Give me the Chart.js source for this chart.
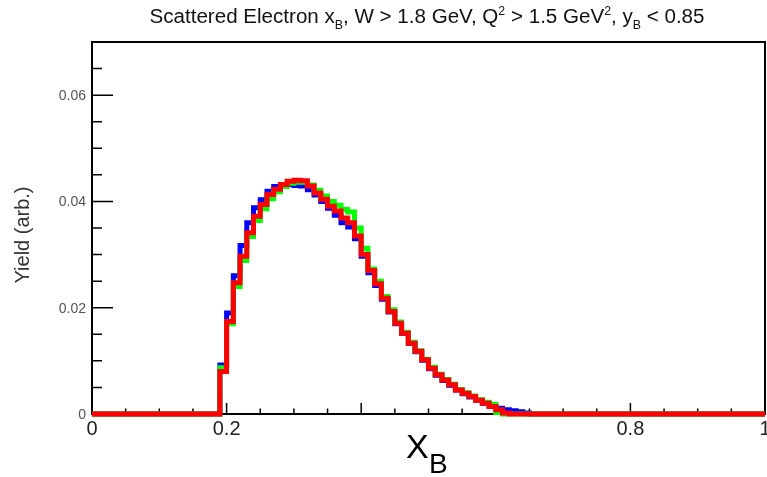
<!DOCTYPE html>
<html>
<head>
<meta charset="utf-8">
<script src="https://cdn.jsdelivr.net/npm/chart.js@4.4.1/dist/chart.umd.min.js"></script>
<style>
html, body { margin: 0; padding: 0; background: #fff; }
#wrap { width: 767px; height: 477px; }
</style>
</head>
<body>
<div id="wrap"><canvas id="chart" width="767" height="477"></canvas></div>
<script>
// histogram: 100 bins of width 0.01 on x_B, values read from bins 0.19 .. 0.64
var binWidth = 0.01;
var nBins = 100;
var firstBin = 19;

var blueYield = [0.0092, 0.0190, 0.0260, 0.0317, 0.0360, 0.0388, 0.0403, 0.0419, 0.0428, 0.0432,
                 0.0432, 0.0430, 0.0429, 0.0422, 0.0412, 0.0400, 0.0387, 0.0374, 0.0360, 0.0352,
                 0.0330, 0.0297, 0.0266, 0.0242, 0.0216, 0.0192, 0.0170, 0.0152, 0.0133, 0.0117,
                 0.0101, 0.0085, 0.0073, 0.0063, 0.0054, 0.0045, 0.0038, 0.0032, 0.0026, 0.0020,
                 0.0015, 0.0011, 0.0008, 0.0006, 0.0004, 0.0002];
var greenYield = [0.0087, 0.0170, 0.0240, 0.0289, 0.0334, 0.0364, 0.0386, 0.0405, 0.0418, 0.0428,
                  0.0434, 0.0436, 0.0436, 0.0431, 0.0421, 0.0410, 0.0400, 0.0393, 0.0385, 0.0380,
                  0.0350, 0.0312, 0.0273, 0.0250, 0.0221, 0.0196, 0.0173, 0.0154, 0.0135, 0.0119,
                  0.0103, 0.0088, 0.0075, 0.0065, 0.0056, 0.0046, 0.0040, 0.0034, 0.0027, 0.0022,
                  0.0018, 0.0003, 0, 0, 0, 0];
var redYield = [0.0080, 0.0174, 0.0247, 0.0297, 0.0341, 0.0372, 0.0394, 0.0413, 0.0423, 0.0432,
                0.0438, 0.0440, 0.0439, 0.0429, 0.0416, 0.0404, 0.0391, 0.0382, 0.0369, 0.0360,
                0.0335, 0.0300, 0.0270, 0.0245, 0.0218, 0.0193, 0.0171, 0.0152, 0.0133, 0.0118,
                0.0102, 0.0086, 0.0074, 0.0064, 0.0055, 0.0045, 0.0039, 0.0033, 0.0026, 0.0020,
                0.0014, 0.0008, 0.0002, 0, 0, 0];

var xTickValues = [0, 0.2, 0.8, 1];
var xTickLabels = ['0', '0.2', '0.8', '1'];
var yTickValues = [0, 0.02, 0.04, 0.06];
var yTickLabels = ['0', '0.02', '0.04', '0.06'];

var titleParts = [
    {t: 'Scattered Electron x'}, {t: 'B', sub: true},
    {t: ', W > 1.8 GeV, Q'}, {t: '2', sup: true},
    {t: ' > 1.5 GeV'}, {t: '2', sup: true},
    {t: ', y'}, {t: 'B', sub: true}, {t: ' < 0.85'}
];

// bin lower edges as points, plus closing point at x = 1 (stepped 'before')
function histPoints(values) {
    var pts = [];
    for (var i = 0; i < nBins; i++) {
        var j = i - firstBin;
        var v = (j >= 0 && j < values.length) ? values[j] : 0;
        pts.push({x: i * binWidth, y: v});
    }
    pts.push({x: nBins * binWidth, y: pts[nBins - 1].y});
    return pts;
}

function histSet(values, color) {
    return {
        data: histPoints(values),
        borderColor: color,
        borderWidth: 5,
        stepped: 'before',
        pointRadius: 0,
        fill: false,
        clip: 6,
        borderJoinStyle: 'miter',
        borderCapStyle: 'butt'
    };
}

var font = '"Liberation Sans", Arial, sans-serif';
var narrowFont = '"Liberation Sans Narrow", "Liberation Sans", Arial, sans-serif';

function drawRich(ctx, parts, x, y, size, width) {
    var small = Math.round(size * 0.6);
    var total = 0;
    parts.forEach(function(p) {
        ctx.font = (p.sub || p.sup ? small : size) + 'px ' + narrowFont;
        p.w = ctx.measureText(p.t).width;
        total += p.w;
    });
    var sx = width ? width / total : 1;
    ctx.save();
    ctx.translate(x - total * sx / 2, y);
    ctx.scale(sx, 1);
    var cx = 0;
    parts.forEach(function(p) {
        ctx.font = (p.sub || p.sup ? small : size) + 'px ' + narrowFont;
        var dy = p.sub ? size * 0.3 : (p.sup ? -size * 0.42 : 0);
        ctx.fillText(p.t, cx, dy);
        cx += p.w;
    });
    ctx.restore();
}

var rootFrame = {
    id: 'rootFrame',
    beforeDatasetsDraw: function(chart) {
        var ctx = chart.ctx, a = chart.chartArea;
        var xs = chart.scales.x, ys = chart.scales.y;
        ctx.save();
        ctx.strokeStyle = '#000';
        ctx.lineWidth = 2;
        ctx.strokeRect(a.left, a.top, a.right - a.left, a.bottom - a.top);
        ctx.lineWidth = 1.5;
        ctx.beginPath();
        // ticks point inward, like ROOT
        for (var k = 0; k <= 20; k++) {
            var px = xs.getPixelForValue(k * 0.05);
            var len = k % 4 === 0 ? 11 : 5.5;
            ctx.moveTo(px, a.bottom);
            ctx.lineTo(px, a.bottom - len);
        }
        for (var m = 0; m <= 14; m++) {
            var py = ys.getPixelForValue(m * 0.005);
            var ylen = m % 4 === 0 ? 21 : 10;
            ctx.moveTo(a.left, py);
            ctx.lineTo(a.left + ylen, py);
        }
        ctx.stroke();
        ctx.restore();
    },
    afterDraw: function(chart) {
        var ctx = chart.ctx, a = chart.chartArea;
        var xs = chart.scales.x, ys = chart.scales.y;
        ctx.save();
        ctx.textBaseline = 'alphabetic';

        ctx.fillStyle = '#222';
        ctx.font = '20px ' + font;
        ctx.textAlign = 'center';
        xTickValues.forEach(function(v, i) {
            ctx.fillText(xTickLabels[i], xs.getPixelForValue(v), a.bottom + 21);
        });

        ctx.fillStyle = '#555';
        ctx.font = '14px ' + font;
        ctx.textAlign = 'right';
        yTickValues.forEach(function(v, i) {
            ctx.fillText(yTickLabels[i], a.left - 6, ys.getPixelForValue(v) + 5);
        });

        ctx.fillStyle = '#111';
        ctx.textAlign = 'left';
        drawRich(ctx, titleParts, 427, 23, 20, 555);

        // x axis title X_B
        ctx.fillStyle = '#000';
        ctx.font = '34px ' + font;
        ctx.fillText('X', 406, 458);
        ctx.font = '28px ' + font;
        ctx.fillText('B', 429, 473);

        // y axis title
        ctx.fillStyle = '#333';
        ctx.font = '20px ' + font;
        ctx.translate(29, 235);
        ctx.rotate(-Math.PI / 2);
        ctx.textAlign = 'center';
        ctx.fillText('Yield (arb.)', 0, 0);
        ctx.restore();
    }
};

var ctx = document.getElementById('chart').getContext('2d');
var chart = new Chart(ctx, {
    type: 'line',
    data: {
        datasets: [
            histSet(redYield, '#ff0000'),
            histSet(greenYield, '#00ff00'),
            histSet(blueYield, '#0000ff')
        ]
    },
    options: {
        responsive: false,
        animation: false,
        layout: {padding: {top: 42, right: 2, left: 0, bottom: 0}},
        plugins: {legend: {display: false}, tooltip: {enabled: false}, title: {display: false}},
        scales: {
            x: {
                type: 'linear', min: 0, max: 1,
                grid: {display: false}, border: {display: false},
                ticks: {display: false},
                afterFit: function(s) { s.height = 63; }
            },
            y: {
                type: 'linear', min: 0, max: 0.07,
                grid: {display: false}, border: {display: false},
                ticks: {display: false},
                afterFit: function(s) { s.width = 92; }
            }
        }
    },
    plugins: [rootFrame]
});
</script>
</body>
</html>
